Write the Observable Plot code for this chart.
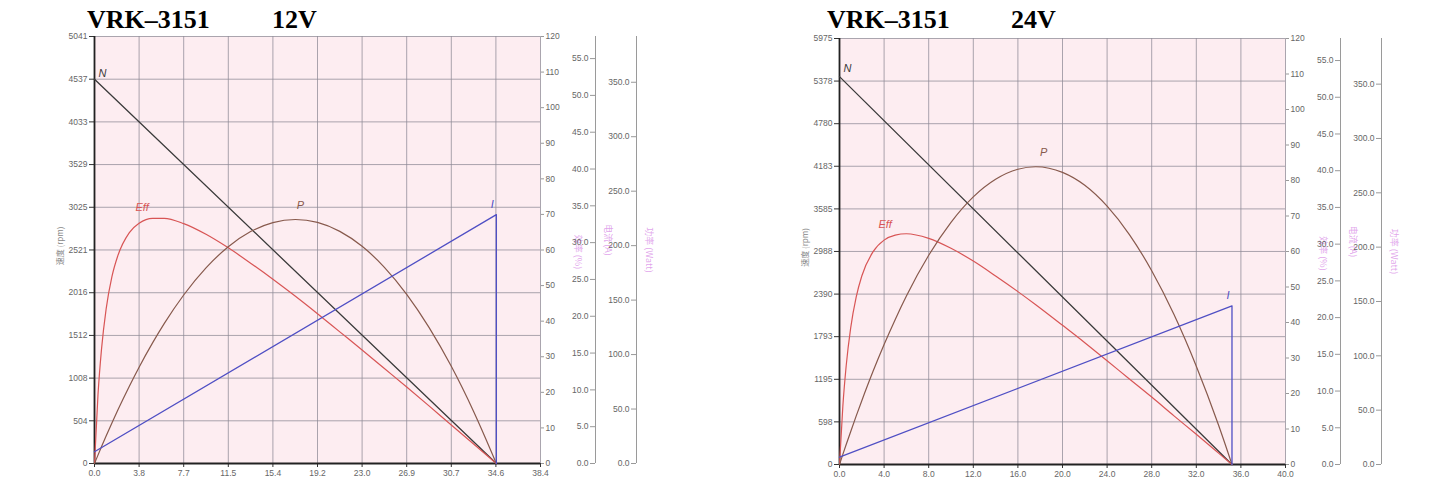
<!DOCTYPE html>
<html><head><meta charset="utf-8">
<script src="https://cdn.jsdelivr.net/npm/d3@7"></script>
<script src="https://cdn.jsdelivr.net/npm/@observablehq/plot@0.6"></script>
<style>
body{margin:0;background:#fff;}
#root{position:relative;width:1456px;height:487px;overflow:hidden;background:#fff;}
.panel{position:absolute;top:0;width:728px;height:487px;}
.title{position:absolute;top:8px;font:bold 26px "Liberation Serif","DejaVu Serif",serif;line-height:24px;white-space:pre;color:#000;}
.stack{position:absolute;top:30px;left:0;width:728px;height:457px;}
.stack svg{position:absolute;left:0;top:0;}
</style></head><body><div id="root"></div>
<script>
// ---- 12V panel data ----
const torque12 = [0, 0.3, 0.6, 1.0, 1.5, 2.0, 3.0, 3.84, 5.0, 6.0, 7.68, 9.6, 11.52, 13.44, 15.36, 17.3, 19.2, 21.12, 23.04, 24.96, 26.88, 28.8, 30.72, 32.64, 34.6];
const eff12 = [0, 19.3, 32.0, 43.4, 52.5, 58.3, 64.9, 67.5, 68.9, 68.9, 67.4, 64.4, 60.6, 56.3, 51.8, 47.0, 42.1, 37.0, 31.9, 26.7, 21.5, 16.2, 10.8, 5.5, 0];
const power12 = [0, 7.7, 15.3, 25.2, 37.2, 48.8, 70.9, 88.4, 110.7, 128.4, 154.7, 179.6, 199.0, 212.9, 221.2, 224, 221.3, 213.1, 199.4, 180.1, 155.3, 125.0, 89.2, 47.8, 0];
const speedT12 = [0, 34.6];
const speed12 = [4537, 0];
const currentT12 = [0, 34.6, 34.6];
const current12 = [1.6, 33.8, 0];
const xTicks12 = [0, 3.84, 7.68, 11.52, 15.36, 19.2, 23.04, 26.88, 30.72, 34.56, 38.4];
const yTicks12 = [0, 504, 1008, 1512, 2016, 2521, 3025, 3529, 4033, 4537, 5041];

// ---- 24V panel data ----
const torque24 = [0, 0.3, 0.6, 1.0, 1.5, 2.0, 3.0, 4.0, 5.0, 6.0, 8.0, 10.0, 12.0, 14.0, 16.0, 17.6, 20.0, 22.0, 24.0, 26.0, 28.0, 30.0, 32.0, 34.0, 35.2];
const eff24 = [0, 16.4, 27.8, 38.4, 47.2, 53.1, 59.9, 63.2, 64.6, 65.0, 63.7, 60.9, 57.3, 53.1, 48.7, 45.0, 39.2, 34.3, 29.2, 24.1, 19.0, 13.7, 8.5, 3.2, 0];
const power24 = [0, 9.3, 18.4, 30.2, 44.7, 58.7, 85.5, 110.4, 133.5, 155.0, 192.5, 222.9, 246.3, 262.5, 271.7, 274, 268.8, 256.9, 237.7, 211.6, 178.3, 138.0, 90.5, 36.1, 0];
const speedT24 = [0, 35.2];
const speed24 = [5440, 0];
const currentT24 = [0, 35.2, 35.2];
const current24 = [1.0, 21.6, 0];
const xTicks24 = [0, 4, 8, 12, 16, 20, 24, 28, 32, 36, 40];
const yTicks24 = [0, 598, 1195, 1793, 2390, 2988, 3585, 4183, 4780, 5378, 5975];

// ---- shared secondary axes ----
const effTicks = [0, 10, 20, 30, 40, 50, 60, 70, 80, 90, 100, 110, 120];
const currentTicks = [0, 5, 10, 15, 20, 25, 30, 35, 40, 45, 50, 55];
const powerTicks = [0, 50, 100, 150, 200, 250, 300, 350];
const axisTitles = ["速度 (rpm)", "效率 (%)", "电流 (A)", "功率 (Watt)"];
const seriesNames = ["N", "Eff", "P", "I"];

const rows = (xs, ys) => xs.map((t, i) => ({t, v: ys[i]}));

const W = 728, H = 457;
const COLORS = {N: "#3a3a3a", Eff: "#d85555", P: "#87594c", I: "#4f4fc4"};

function makePanel(c) {
  const panel = document.createElement("div");
  panel.className = "panel";
  panel.style.left = c.offset + "px";
  c.title.forEach((s, i) => {
    const d = document.createElement("div");
    d.className = "title"; d.textContent = s; d.style.left = c.titleX[i] + "px";
    panel.appendChild(d);
  });
  const stack = document.createElement("div");
  stack.className = "stack";
  panel.appendChild(stack);

  const common = {
    width: W, height: H, marginLeft: c.ml, marginRight: W - c.fr, marginTop: c.mt, marginBottom: c.mb,
    style: {background: "transparent", fontFamily: "'Liberation Sans', Arial, sans-serif", fontSize: "8.5px", color: "#555", overflow: "visible"}
  };
  const fw = c.fr - c.ml;
  const lab = {fontStyle: "italic", fontSize: 11, fontFamily: "'Liberation Sans', Arial, sans-serif"};
  const sideTitle = {fill: "#cc66dd", fillOpacity: 0.6, fontSize: 9, textAnchor: "middle", fontFamily: "'Noto Sans CJK SC', sans-serif"};

  const speed = rows(c.speedT, c.speed);
  const eff = rows(c.torque, c.eff);
  const power = rows(c.torque, c.power);
  const current = rows(c.currentT, c.current);

  // base: speed axis, grid, torque axis, N line
  const base = Plot.plot({
    ...common,
    x: {domain: c.xDomain},
    y: {domain: c.yDomain},
    marks: [
      Plot.frame({fill: "#fdedf1", stroke: null}),
      Plot.gridX(c.xTicks, {stroke: "#8e8a96", strokeOpacity: 0.75}),
      Plot.gridY(c.yTicks, {stroke: "#8e8a96", strokeOpacity: 0.75}),
      Plot.axisX(c.xTicks, {tickFormat: ".1f", tickSize: 4, tickPadding: 2, stroke: "#333", fill: "#666", label: null}),
      Plot.axisY(c.yTicks, {tickFormat: "d", tickSize: 5, tickPadding: 2, stroke: "#333", fill: "#666", label: null}),
      Plot.ruleX([c.xDomain[0]], {stroke: "#222", strokeWidth: 1.8}),
      Plot.ruleY([c.yDomain[0]], {stroke: "#222", strokeWidth: 2.2}),
      Plot.line(speed, {x: "t", y: "v", stroke: COLORS.N, strokeWidth: 1.3}),
      Plot.text([speed[0]], {x: "t", y: "v", text: () => seriesNames[0], dx: 8, dy: c.nDy, fill: COLORS.N, ...lab}),
      Plot.text([axisTitles[0]], {text: d => d, frameAnchor: "left", textAnchor: "middle", dx: -34, dy: -4, rotate: -90, fill: "#888", fontSize: 8, fontFamily: "'Noto Sans CJK SC', sans-serif"})
    ]
  });

  // efficiency overlay (0-120 axis at the right edge)
  const effPlot = Plot.plot({
    ...common,
    x: {domain: c.xDomain, axis: null},
    y: {domain: [0, 120]},
    marks: [
      Plot.axisY(effTicks, {anchor: "right", tickFormat: "d", tickSize: 3, tickPadding: 2, stroke: "#999", fill: "#666", label: null}),
      Plot.line(eff, {x: "t", y: "v", stroke: COLORS.Eff, strokeWidth: 1.2, curve: "monotone-x"}),
      Plot.text([eff[c.effLabelIdx]], {x: "t", y: "v", text: () => seriesNames[1], dx: c.effDx, dy: -16, fill: COLORS.Eff, ...lab}),
      Plot.text([axisTitles[1]], {text: d => d, frameAnchor: "right", dx: 37, dy: 2, rotate: 90, ...sideTitle})
    ]
  });

  // current overlay (axis further right)
  const curPlot = Plot.plot({
    ...common,
    x: {domain: c.xDomain, axis: null},
    y: {domain: [0, 58]},
    marks: [
      Plot.ruleX([c.xDomain[0]], {dx: fw + 55, stroke: "#9a9a9a", strokeWidth: 1}),
      Plot.axisY(currentTicks, {anchor: "left", dx: fw + 55, tickFormat: ".1f", tickSize: 5, tickPadding: 2, stroke: "#999", fill: "#666", label: null}),
      Plot.line(current, {x: "t", y: "v", stroke: COLORS.I, strokeWidth: 1.3}),
      Plot.text([current[1]], {x: "t", y: "v", text: () => seriesNames[3], dx: -4, dy: -10, fill: COLORS.I, ...lab}),
      Plot.text([axisTitles[2]], {text: d => d, frameAnchor: "right", dx: 67, dy: -10, rotate: 90, ...sideTitle})
    ]
  });

  // power overlay (outermost axis)
  const powPlot = Plot.plot({
    ...common,
    x: {domain: c.xDomain, axis: null},
    y: {domain: [0, 392]},
    marks: [
      Plot.ruleX([c.xDomain[0]], {dx: fw + 96, stroke: "#9a9a9a", strokeWidth: 1}),
      Plot.axisY(powerTicks, {anchor: "left", dx: fw + 96, tickFormat: ".1f", tickSize: 5, tickPadding: 2, stroke: "#999", fill: "#666", label: null}),
      Plot.line(power, {x: "t", y: "v", stroke: COLORS.P, strokeWidth: 1.2, curve: "monotone-x"}),
      Plot.text([power[15]], {x: "t", y: "v", text: () => seriesNames[2], dx: c.pDx, dy: -14, fill: COLORS.P, ...lab}),
      Plot.text([axisTitles[3]], {text: d => d, frameAnchor: "right", dx: 108, rotate: 90, ...sideTitle})
    ]
  });

  [base, effPlot, powPlot, curPlot].forEach(s => stack.appendChild(s));
  return panel;
}

const root = document.getElementById("root");
root.appendChild(makePanel({
  offset: 0, title: ["VRK–3151", "12V"], titleX: [87, 272],
  ml: 94, fr: 540, mt: 6, mb: 24,
  xDomain: [0, 38.4], yDomain: [0, 5041], xTicks: xTicks12, yTicks: yTicks12,
  torque: torque12, eff: eff12, power: power12, speedT: speedT12, speed: speed12,
  currentT: currentT12, current: current12, effLabelIdx: 7, effDx: 3, pDx: 5, nDy: -6
}));
root.appendChild(makePanel({
  offset: 728, title: ["VRK–3151", "24V"], titleX: [99, 283],
  ml: 111, fr: 557, mt: 8, mb: 23,
  xDomain: [0, 40], yDomain: [0, 5975], xTicks: xTicks24, yTicks: yTicks24,
  torque: torque24, eff: eff24, power: power24, speedT: speedT24, speed: speed24,
  currentT: currentT24, current: current24, effLabelIdx: 7, effDx: 1, pDx: 8, nDy: -8
}));
</script></body></html>
